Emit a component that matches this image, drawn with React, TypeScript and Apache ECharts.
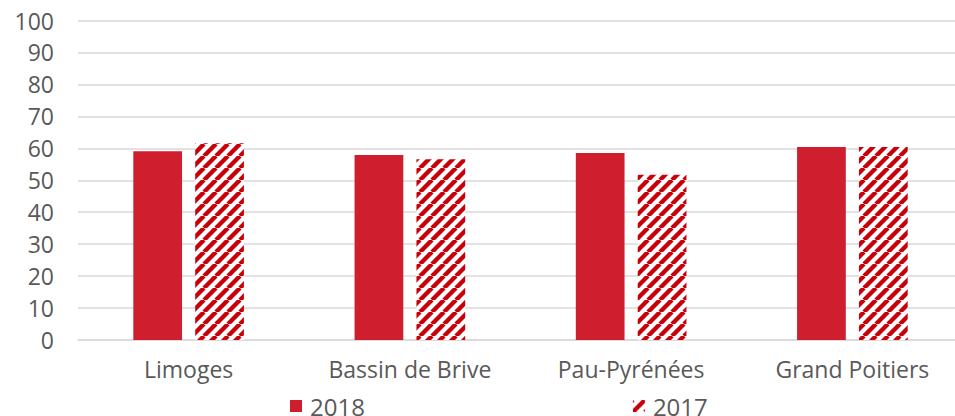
import React, { useEffect, useRef } from "react";
import * as echarts from "echarts";

const categories = ["Limoges", "Bassin de Brive", "Pau-Pyrénées", "Grand Poitiers"];
const values2018 = [59.1, 57.9, 58.5, 60.4];
const values2017 = [61.6, 56.6, 51.7, 60.4];
const seriesNames = ["2018", "2017"];

function makeStripe(): HTMLCanvasElement {
  const s = 12;
  const c = document.createElement("canvas");
  c.width = s;
  c.height = s;
  const ctx = c.getContext("2d")!;
  ctx.fillStyle = "#ffffff";
  ctx.fillRect(0, 0, s, s);
  ctx.strokeStyle = "#c8000a";
  ctx.lineWidth = 4.4;
  for (const x of [-s, 0, s]) {
    ctx.beginPath();
    ctx.moveTo(x, s);
    ctx.lineTo(x + s, 0);
    ctx.stroke();
  }
  return c;
}

export default function App() {
  const ref = useRef<HTMLDivElement>(null);
  useEffect(() => {
    document.documentElement.style.overflow = "hidden";
    document.body.style.overflow = "hidden";
    if (!ref.current) return;
    const chart = echarts.init(ref.current, undefined, { renderer: "svg" });
    const stripe = makeStripe();
    const font = "'Open Sans', sans-serif";
    chart.setOption({
      animation: false,
      textStyle: { fontFamily: font },
      grid: { left: 78, right: 0, top: 20.5, bottom: 76, containLabel: false },
      legend: {
        data: seriesNames.map((n) => ({ name: n, icon: "rect" })),
        left: 290,
        top: 394,
        padding: 0,
        itemWidth: 12,
        itemHeight: 12,
        itemGap: 268,
        textStyle: { fontSize: 24, color: "#595959", fontFamily: font, padding: [0, 0, 0, 3] },
      },
      xAxis: {
        type: "category",
        data: categories,
        axisTick: { show: false },
        axisLine: { lineStyle: { color: "#d9d9d9", width: 1.5 } },
        axisLabel: { color: "#595959", fontSize: 23, margin: 17, fontFamily: font },
      },
      yAxis: {
        type: "value",
        min: 0,
        max: 100,
        interval: 10,
        axisLine: { show: false },
        axisTick: { show: false },
        splitLine: { lineStyle: { color: "#d9d9d9", width: 1.5 } },
        axisLabel: { color: "#595959", fontSize: 23, margin: 24, fontFamily: font },
      },
      series: [
        {
          name: seriesNames[0],
          type: "bar",
          data: values2018,
          barGap: "27%",
          barCategoryGap: "50%",
          itemStyle: { color: "#cf1e2e" },
        },
        {
          name: seriesNames[1],
          type: "bar",
          data: values2017,
          barGap: "27%",
          barCategoryGap: "50%",
          itemStyle: { color: { image: stripe, repeat: "repeat" } },
        },
      ],
    });
    return () => chart.dispose();
  }, []);
  return (
    <div
      ref={ref}
      style={{ position: "fixed", left: 0, top: 0, width: 963, height: 416, background: "#fff" }}
    />
  );
}
